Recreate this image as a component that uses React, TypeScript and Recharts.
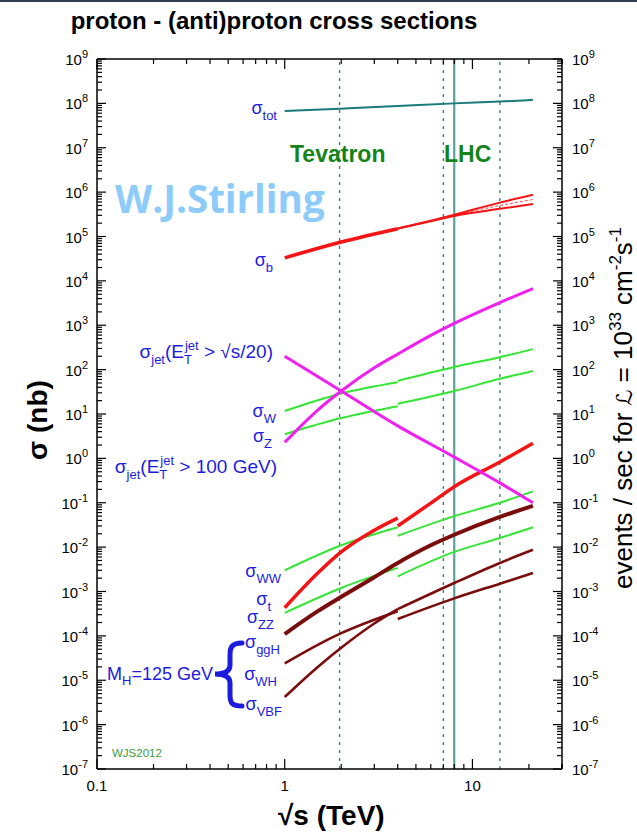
import React from 'react';
import { LineChart, Line, XAxis, YAxis, ReferenceLine } from 'recharts';

const W = 637;
const H = 833;
const PL = 97;
const PR = 562;
const PT = 59;
const PB = 769;
const FONT = '"Liberation Sans", Arial, Helvetica, sans-serif';
const BLUE = '#1c1ce0';

// axis decades
const xDecades = [0.1, 1, 10];
const xMax = 30;
const yExponents = [-7, -6, -5, -4, -3, -2, -1, 0, 1, 2, 3, 4, 5, 6, 7, 8, 9];

// collider energies (TeV)
const tevatronE = 1.96;
const lhcE = [7, 14];
const lhcNow = 8;

// sigma_tot
const totX = [1, 1.96, 4, 8, 14, 21];
const totY = [6.7e7, 7.6e7, 8.7e7, 1.0e8, 1.1e8, 1.2e8];

// sigma_b : ppbar then pp band
const bX1 = [1, 2, 4];
const bY1 = [3.3e4, 7.5e4, 1.5e5];
const bX2 = [4, 6, 8, 14, 21];
const bHiY = [1.52e5, 2.28e5, 3.1e5, 5.8e5, 8.7e5];
const bLoY = [1.5e5, 2.2e5, 2.9e5, 4.2e5, 5.4e5];
const bMidY = [1.51e5, 2.24e5, 3.0e5, 5.0e5, 6.8e5];

// jets
const jetAX = [1, 2, 4, 8, 14, 21];
const jetAY = [200, 33, 5.4, 1.07, 0.28, 0.1];
const jetBX = [1, 1.5, 2, 3, 4, 6, 8, 14, 21];
const jetBY = [2.3, 12.3, 33, 110, 224, 590, 1100, 3240, 6700];

// W, Z
const ppbarX = [1, 2, 4];
const ppX = [4, 8, 14, 21];
const wY1 = [11.7, 29, 52];
const wY2 = [56, 115, 190, 290];
const zY1 = [3.5, 8.1, 15];
const zY2 = [17, 33, 62, 93];

// top
const tX1 = [1, 1.5, 2, 3, 4];
const tY1 = [4.3e-4, 2.6e-3, 7.8e-3, 0.024, 0.045];
const tX2 = [4, 6, 8, 14, 21];
const tY2 = [0.03, 0.098, 0.23, 0.83, 2.2];

// dibosons
const wwY1 = [3e-3, 0.011, 0.028];
const wwY2 = [0.018, 0.05, 0.1, 0.18];
const zzY1 = [3.3e-4, 1.2e-3, 3.4e-3];
const zzY2 = [2.2e-3, 7.8e-3, 0.016, 0.028];

// Higgs, MH = 125 GeV
const ggX = [1, 1.5, 2, 3, 4, 6, 8, 14, 21];
const ggY = [1.1e-4, 3.6e-4, 7.6e-4, 2.1e-3, 4.4e-3, 1.1e-2, 1.9e-2, 4.8e-2, 8.5e-2];
const whX1 = [1, 1.5, 2, 4];
const whY1 = [2.4e-5, 6.3e-5, 1.15e-4, 3.6e-4];
const whY2 = [2.4e-4, 7e-4, 1.5e-3, 2.6e-3];
const vbfX1 = [1, 1.5, 2, 3, 4];
const vbfY1 = [4.2e-6, 2e-5, 5.4e-5, 1.9e-4, 4e-4];
const vbfY2 = [4e-4, 1.55e-3, 4.4e-3, 8.7e-3];

const zip = (xs: number[], ys: number[]) => xs.map((x, i) => ({ x, y: ys[i] }));

const xTicks: number[] = [];
xDecades.forEach((d) => {
  for (let k = 1; k <= 9; k++) {
    const v = +(k * d).toPrecision(3);
    if (v <= xMax) xTicks.push(v);
  }
});
xTicks.push(xMax);

const yTicks: number[] = [];
yExponents.forEach((e) => {
  const kmax = e === 9 ? 1 : 9;
  for (let k = 1; k <= kmax; k++) yTicks.push(+(k * Math.pow(10, e)).toPrecision(3));
});

const isMajor = (v: number) => Math.abs(Math.log10(v) - Math.round(Math.log10(v))) < 1e-6;

function LeftTick(props: any) {
  const { y, payload } = props;
  const v = payload.value;
  const major = isMajor(v);
  const e = Math.round(Math.log10(v));
  return (
    <g>
      <line x1={PL} x2={PL + (major ? 9 : 5)} y1={y} y2={y} stroke="#000" strokeWidth={1.2} />
      {major && (
        <text x={88} y={y + 6} textAnchor="end" fontSize={15} fill="#000" fontFamily={FONT}>
          10<tspan dy={-7} fontSize={11}>{e}</tspan>
        </text>
      )}
    </g>
  );
}

function RightTick(props: any) {
  const { y, payload } = props;
  const v = payload.value;
  const major = isMajor(v);
  const e = Math.round(Math.log10(v));
  return (
    <g>
      <line x1={PR} x2={PR - (major ? 9 : 5)} y1={y} y2={y} stroke="#000" strokeWidth={1.2} />
      {major && (
        <text x={572} y={y + 6} textAnchor="start" fontSize={15} fill="#000" fontFamily={FONT}>
          10<tspan dy={-7} fontSize={11}>{e}</tspan>
        </text>
      )}
    </g>
  );
}

function BottomTick(props: any) {
  const { x, payload } = props;
  const v = payload.value;
  const major = isMajor(v);
  return (
    <g>
      <line x1={x} x2={x} y1={PB} y2={PB - (major ? 10 : 5)} stroke="#000" strokeWidth={1.2} />
      {major && (
        <text x={x} y={791} textAnchor="middle" fontSize={15} fill="#000" fontFamily={FONT}>
          {String(v)}
        </text>
      )}
    </g>
  );
}

function TopTick(props: any) {
  const { x, payload } = props;
  const major = isMajor(payload.value);
  return <line x1={x} x2={x} y1={PT} y2={PT + (major ? 10 : 5)} stroke="#000" strokeWidth={1.2} />;
}

function Sigma({ x, y, sub }: { x: number; y: number; sub: string }) {
  return (
    <text x={x} y={y} textAnchor="end" fontSize={18} fill={BLUE} fontFamily={FONT}>
      σ<tspan dy={6} fontSize={13}>{sub}</tspan>
    </text>
  );
}

function JetLabel({ x, y, cut }: { x: number; y: number; cut: string }) {
  return (
    <text x={x} y={y} textAnchor="end" fontSize={19} fill={BLUE} fontFamily={FONT}>
      σ<tspan dy={6} fontSize={13}>jet</tspan>
      <tspan dy={-6}>(E</tspan>
      <tspan dy={6} fontSize={13}>T</tspan>
      <tspan dx={-7} dy={-14} fontSize={13}>jet</tspan>
      <tspan dy={8}>{' > ' + cut + ')'}</tspan>
    </text>
  );
}

const lineProps = {
  xAxisId: 'b',
  yAxisId: 'l',
  dataKey: 'y',
  dot: false,
  activeDot: false,
  isAnimationActive: false,
  type: 'monotone' as const,
};

const GREEN = '#33e633';
const RED = '#f51414';
const MAGENTA = '#f020f0';
const BROWN = '#7a0c0c';

export default function App() {
  return (
    <div style={{ position: 'absolute', left: 0, top: 0, width: W, height: H, background: '#fff', overflow: 'hidden' }}>
      <LineChart width={W} height={H} margin={{ top: 29, right: 0, bottom: 34, left: 0 }}>
        <XAxis
          xAxisId="b"
          type="number"
          dataKey="x"
          scale="log"
          domain={[0.1, xMax]}
          allowDataOverflow
          ticks={xTicks}
          interval={0}
          tick={(p: any) => <BottomTick {...p} />}
          tickLine={false}
          axisLine={{ stroke: '#000', strokeWidth: 1.5 }}
          height={30}
        />
        <XAxis
          xAxisId="t"
          orientation="top"
          type="number"
          dataKey="x"
          scale="log"
          domain={[0.1, xMax]}
          allowDataOverflow
          ticks={xTicks}
          interval={0}
          tick={(p: any) => <TopTick {...p} />}
          tickLine={false}
          axisLine={{ stroke: '#000', strokeWidth: 1.5 }}
          height={30}
        />
        <YAxis
          yAxisId="l"
          type="number"
          scale="log"
          domain={[1e-7, 1e9]}
          allowDataOverflow
          ticks={yTicks}
          interval={0}
          tick={(p: any) => <LeftTick {...p} />}
          tickLine={false}
          axisLine={{ stroke: '#000', strokeWidth: 1.5 }}
          width={PL}
        />
        <YAxis
          yAxisId="r"
          orientation="right"
          type="number"
          scale="log"
          domain={[1e-7, 1e9]}
          allowDataOverflow
          ticks={yTicks}
          interval={0}
          tick={(p: any) => <RightTick {...p} />}
          tickLine={false}
          axisLine={{ stroke: '#000', strokeWidth: 1.5 }}
          width={W - PR}
        />
        <ReferenceLine xAxisId="b" yAxisId="l" x={tevatronE} stroke="#2e7d7d" strokeWidth={1.3} strokeDasharray="3 5" />
        {lhcE.map((e) => (
          <ReferenceLine key={e} xAxisId="b" yAxisId="l" x={e} stroke="#2e7d7d" strokeWidth={1.3} strokeDasharray="3 5" />
        ))}
        <ReferenceLine xAxisId="b" yAxisId="l" x={lhcNow} stroke="#5b9f9f" strokeWidth={2.2} />

        <Line {...lineProps} data={zip(totX, totY)} stroke="#187a7a" strokeWidth={2} />

        <Line {...lineProps} data={zip(ppbarX, wY1)} stroke={GREEN} strokeWidth={2} />
        <Line {...lineProps} data={zip(ppX, wY2)} stroke={GREEN} strokeWidth={2} />
        <Line {...lineProps} data={zip(ppbarX, zY1)} stroke={GREEN} strokeWidth={2} />
        <Line {...lineProps} data={zip(ppX, zY2)} stroke={GREEN} strokeWidth={2} />
        <Line {...lineProps} data={zip(ppbarX, wwY1)} stroke={GREEN} strokeWidth={2} />
        <Line {...lineProps} data={zip(ppX, wwY2)} stroke={GREEN} strokeWidth={2} />
        <Line {...lineProps} data={zip(ppbarX, zzY1)} stroke={GREEN} strokeWidth={2} />
        <Line {...lineProps} data={zip(ppX, zzY2)} stroke={GREEN} strokeWidth={2} />

        <Line {...lineProps} data={zip(bX1, bY1)} stroke={RED} strokeWidth={3.5} />
        <Line {...lineProps} data={zip(bX2, bHiY)} stroke={RED} strokeWidth={2} />
        <Line {...lineProps} data={zip(bX2, bLoY)} stroke={RED} strokeWidth={2} />
        <Line {...lineProps} data={zip(bX2, bMidY)} stroke={RED} strokeWidth={0.8} strokeDasharray="3 2" />

        <Line {...lineProps} data={zip(tX1, tY1)} stroke={RED} strokeWidth={3.5} />
        <Line {...lineProps} data={zip(tX2, tY2)} stroke={RED} strokeWidth={3.5} />

        <Line {...lineProps} data={zip(jetAX, jetAY)} stroke={MAGENTA} strokeWidth={3} />
        <Line {...lineProps} data={zip(jetBX, jetBY)} stroke={MAGENTA} strokeWidth={3} />

        <Line {...lineProps} data={zip(ggX, ggY)} stroke={BROWN} strokeWidth={4} />
        <Line {...lineProps} data={zip(whX1, whY1)} stroke={BROWN} strokeWidth={2.6} />
        <Line {...lineProps} data={zip(ppX, whY2)} stroke={BROWN} strokeWidth={2.6} />
        <Line {...lineProps} data={zip(vbfX1, vbfY1)} stroke={BROWN} strokeWidth={2.6} />
        <Line {...lineProps} data={zip(ppX, vbfY2)} stroke={BROWN} strokeWidth={2.6} />
      </LineChart>

      <svg width={W} height={H} style={{ position: 'absolute', left: 0, top: 0, pointerEvents: 'none' }}>
        <rect x={0} y={0} width={W} height={2} fill="#2c3e50" />
        <text x={274} y={29} textAnchor="middle" fontSize={24} fontWeight="bold" fontFamily={FONT} fill="#000">
          proton - (anti)proton cross sections
        </text>

        <text x={115} y={213} fontSize={38.5} fontWeight="bold" fontFamily='"Open Sans", "Noto Sans", sans-serif' fill="#8ccbfa">
          W.J.Stirling
        </text>
        <text x={290} y={162} fontSize={23} fontWeight="bold" fontFamily={FONT} fill="#14841a">Tevatron</text>
        <text x={444} y={162} fontSize={23} fontWeight="bold" fontFamily={FONT} fill="#14841a">LHC</text>
        <text x={112} y={757} fontSize={11.5} fontFamily={FONT} fill="#3c9a3c">WJS2012</text>

        <text transform="translate(47,420) rotate(-90)" textAnchor="middle" fontSize={28} fontWeight="bold" fontFamily={FONT} fill="#000">
          σ  (nb)
        </text>
        <text x={278} y={825} fontSize={28} fontWeight="bold" fontFamily={FONT} fill="#000">
          √s  (TeV)
        </text>
        <text transform="translate(632,408) rotate(-90)" textAnchor="middle" fontSize={26} fontFamily={FONT} fill="#000">
          events / sec for <tspan fontFamily='"DejaVu Sans", sans-serif' fontSize={22}>ℒ</tspan> = 10
          <tspan dy={-11} fontSize={17}>33</tspan>
          <tspan dy={11}> cm</tspan>
          <tspan dy={-11} fontSize={17}>-2</tspan>
          <tspan dy={11}>s</tspan>
          <tspan dy={-11} fontSize={17}>-1</tspan>
        </text>

        <Sigma x={277} y={114} sub="tot" />
        <Sigma x={273} y={266} sub="b" />
        <Sigma x={276} y={417} sub="W" />
        <Sigma x={272} y={442} sub="Z" />
        <Sigma x={281} y={577} sub="WW" />
        <Sigma x={271} y={605} sub="t" />
        <Sigma x={274} y={623} sub="ZZ" />
        <Sigma x={280} y={648} sub="ggH" />
        <Sigma x={277} y={680} sub="WH" />
        <Sigma x={282} y={710} sub="VBF" />

        <JetLabel x={273} y={358} cut="√s/20" />
        <JetLabel x={277} y={473} cut="100 GeV" />

        <text x={213} y={680} textAnchor="end" fontSize={18} fill={BLUE} fontFamily={FONT}>
          M<tspan dy={5} fontSize={13}>H</tspan>
          <tspan dy={-5}>=125 GeV</tspan>
        </text>
        <path
          d="M 242 643 C 232 643, 230 647, 230 655 L 230 665 C 230 671, 225 674, 215 674 C 225 674, 230 677, 230 683 L 230 695 C 230 703, 232 706, 242 706"
          stroke={BLUE}
          strokeWidth={5}
          fill="none"
          strokeLinecap="round"
        />
      </svg>
    </div>
  );
}
